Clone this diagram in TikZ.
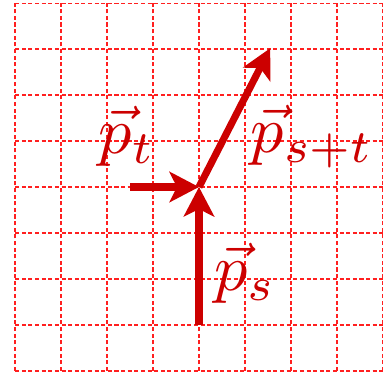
\documentclass[tikz,border=0pt]{standalone}
\usetikzlibrary{arrows.meta}
\definecolor{VecRed}{HTML}{CC0000}
\definecolor{GridRed}{HTML}{FF2020}
\newcommand{\biglbl}[1]{\scalebox{4.1}{$#1$}}

\begin{document}
\begin{tikzpicture}[
      gridline/.style={GridRed,line width=0.85pt,dash pattern=on 2.5pt off 1.6pt},
      vec/.style={-{Stealth[length=0.64cm,width=0.66cm,inset=0.16cm]},VecRed,line width=4.4pt},
      lbl/.style={text=VecRed,inner sep=0pt}]
    \useasboundingbox (-4.33,-4.02) rectangle (4.07,4.07);
    \draw[gridline] (-4,-4) grid (4,4);
    \coordinate (o)  at (0,0);
    \coordinate (s)  at (0,-3);
    \coordinate (t)  at (-1.5,0);
    \coordinate (st) at (1.55,3.02);
    \draw[vec] (s) -- (o);
    \draw[vec] (t) -- (o);
    \draw[vec] (o) -- (st);
    \node[lbl] (ps)  at (1.0,-1.87)  {\biglbl{\vec{p}_s}};
    \node[lbl] (pt)  at (-1.57,1.1) {\biglbl{\vec{p}_t}};
    \node[lbl] (pst) at (2.46,1.1)  {\biglbl{\vec{p}_{s+t}}};
  \end{tikzpicture}
\end{document}
